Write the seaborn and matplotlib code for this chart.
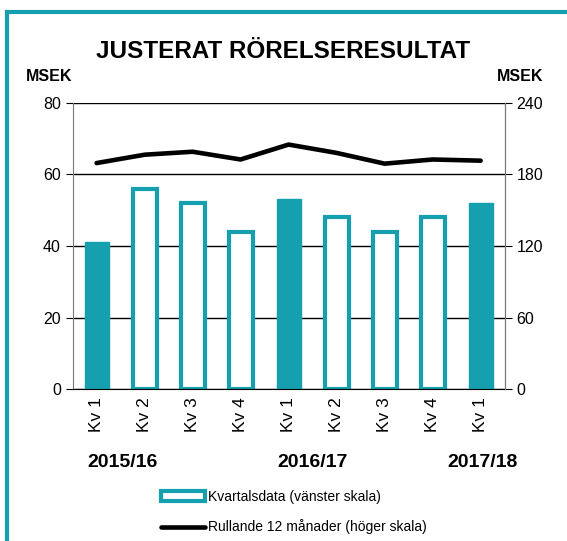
import numpy as np
import pandas as pd
import matplotlib.pyplot as plt
import matplotlib.patches as mpatches
from matplotlib.lines import Line2D
import seaborn as sns

# Data
quarters = ["Kv 1", "Kv 2", "Kv 3", "Kv 4", "Kv 1", "Kv 2", "Kv 3", "Kv 4", "Kv 1"]
quarterly = [41, 56, 52, 44, 53, 48, 44, 48, 52]
rolling12 = [189.5, 196.5, 199, 192.5, 205, 198, 189, 192.5, 191.5]
years = ["2015/16", "2016/17", "2017/18"]
year_pos = [0.55, 4.5, 8.03]

teal = "#169FAF"

sns.set_style("white")
plt.rcParams['font.family'] = ['Liberation Sans', 'DejaVu Sans']
plt.rcParams['text.color'] = 'black'
plt.rcParams['xtick.color'] = 'black'
plt.rcParams['ytick.color'] = 'black'

df = pd.DataFrame({"pos": range(len(quarters)), "value": quarterly})

fig = plt.figure(figsize=(5.67, 5.41), dpi=100)
ax = fig.add_axes([0.128, 0.2805, 0.762, 0.5295])

sns.barplot(data=df, x="pos", y="value", ax=ax, width=0.5,
            color=teal, saturation=1, native_scale=True)
for i, p in enumerate(ax.patches):
    if quarters[i] == "Kv 1":
        p.set_facecolor(teal)
        p.set_edgecolor(teal)
    else:
        p.set_facecolor("white")
        p.set_edgecolor(teal)
        p.set_linewidth(3)

ax.set_xlim(-0.5, 8.5)
ax.set_ylim(0, 80)
ax.set_yticks([0, 20, 40, 60, 80])
ax.yaxis.grid(True, color="black", linewidth=1)
ax.set_axisbelow(True)
ax.set_xticks(range(len(quarters)))
ax.set_xticklabels(quarters, rotation=90, fontsize=12.5)
ax.set_xticks(np.arange(-0.5, 9, 1), minor=True)
ax.tick_params(axis="x", which="major", length=0, pad=6)
ax.tick_params(axis="x", which="minor", length=6, direction="inout", color="black")
ax.tick_params(axis="y", length=5, direction="out", color="black", labelsize=11.5, left=True)
ax.set_xlabel("")
ax.set_ylabel("")
ax.spines["bottom"].set_color("black")
ax.spines["top"].set_visible(False)
ax.spines["left"].set_color("#777777")
ax.spines["right"].set_color("#777777")

ax2 = ax.twinx()
sns.lineplot(x=list(range(len(rolling12))), y=rolling12, ax=ax2, color="black",
             linewidth=3.3)
ax2.set_ylim(0, 240)
ax2.set_yticks([0, 60, 120, 180, 240])
ax2.tick_params(axis="y", length=5, direction="out", color="black", labelsize=11.5, right=True)
ax2.spines["top"].set_visible(False)
ax2.spines["right"].set_color("#777777")
ax2.spines["left"].set_visible(False)
ax2.spines["bottom"].set_visible(False)

fig.text(0.5, 0.905, "JUSTERAT RÖRELSERESULTAT", ha="center", va="center",
         fontsize=17.5, fontweight="bold")
fig.text(0.086, 0.858, "MSEK", ha="center", va="center", fontsize=11.5, fontweight="bold")
fig.text(0.917, 0.858, "MSEK", ha="center", va="center", fontsize=11.5, fontweight="bold")

for yl, xp in zip(years, year_pos):
    ax.text(xp, -0.255, yl, transform=ax.get_xaxis_transform(), ha="center",
            va="center", fontsize=14, fontweight="bold")

handles = [mpatches.Patch(facecolor="white", edgecolor=teal, linewidth=3),
           Line2D([0], [0], color="black", linewidth=3.3)]
fig.legend(handles, ["Kvartalsdata (vänster skala)", "Rullande 12 månader (höger skala)"],
           loc="upper left", bbox_to_anchor=(0.262, 0.117), frameon=False,
           fontsize=10, handlelength=3.2, handletextpad=0.2, labelspacing=1.1)

fig.add_artist(mpatches.Rectangle((7 / 567, -0.05), 1.2, 1 - 12 / 541 + 0.05,
                                  transform=fig.transFigure, fill=False,
                                  edgecolor=teal, linewidth=3))

fig.savefig("out.png", dpi=100)
